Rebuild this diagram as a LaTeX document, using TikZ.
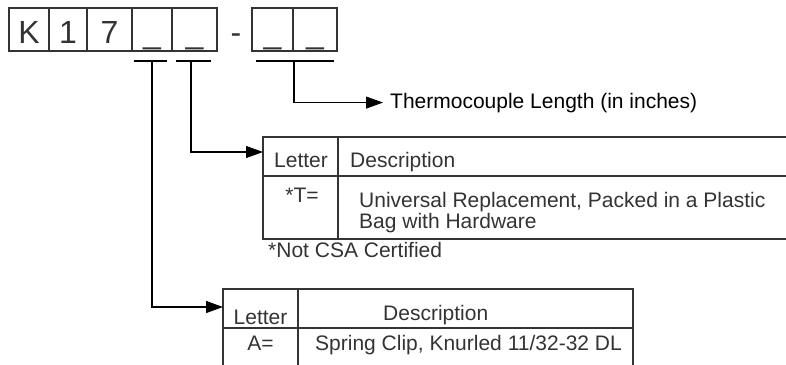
\documentclass[tikz,border=0pt]{standalone}
\usepackage{fontspec}
\setmainfont{Liberation Sans}
\usetikzlibrary{arrows.meta}
\definecolor{inkgray}{HTML}{333333}
\tikzset{
	digitbox/.style={draw=inkgray, line width=1.3pt, minimum height=43pt, inner sep=0pt, text height=27pt, text depth=0pt, font=\fontsize{32}{32}\selectfont, text=inkgray},
	tabtext/.style={inner sep=0pt, font=\fontsize{21}{21}\selectfont, text=inkgray},
	tabline/.style={draw=inkgray, line width=1.3pt},
	lead/.style={line width=1.1pt},
	leadarrow/.style={lead, -{Triangle[length=17pt,width=12pt]}}
}
\begin{document}
\begin{tikzpicture}[x=1pt,y=-1pt]
	\useasboundingbox (0,0) rectangle (786,364);
	\clip (0,0) rectangle (786,364);
	%part number boxes----------------------------
	\node[digitbox, minimum width=40pt] (bK) at (29,29.5) {K};
	\node[digitbox, minimum width=38pt] (bOne) at (68,29.5) {1};
	\node[digitbox, minimum width=45pt] (bSeven) at (109.5,29.5) {7};
	\node[digitbox, minimum width=40pt] (bMount) at (152,29.5) {\_};
	\node[digitbox, minimum width=45pt] (bKit) at (194.5,29.5) {\_};
	\node[inner sep=0pt, anchor=base, font=\fontsize{32}{32}\selectfont, text=inkgray] (dash) at (236,43) {-};
	\node[digitbox, minimum width=41pt] (bLenA) at (272.5,29.5) {\_};
	\node[digitbox, minimum width=44pt] (bLenB) at (315,29.5) {\_};
	
	%underlines
	\draw[lead] (134,61) -- (167,61); %mount
	\draw[lead] (176,61) -- (211,61); %kit
	\draw[lead] (256,61) -- (334,61); %length
	\coordinate (uMount) at (152,61);
	\coordinate (uKit) at (191,61);
	\coordinate (uLen) at (294,61);
	
	%length------------------------------------
	\node[tabtext, anchor=base west, text=black] (lenTxt) at (390,108) {Thermocouple Length (in inches)};
	\draw[leadarrow] (uLen) |- ([xshift=-7pt]lenTxt.west);
	
	%kit table---------------------------------
	\coordinate (kitIn) at (263,152);
	\draw[tabline] (800,137) -- (263,137) -- (263,239) -- (800,239); %frame
	\draw[tabline] (263,176) -- (800,176); %header line
	\draw[tabline] (338,137) -- (338,239); %column line
	\node[tabtext, anchor=base] (kitLetter) at (301,167) {Letter};
	\node[tabtext, anchor=base west] (kitDesc) at (350,167) {Description};
	\node[tabtext, anchor=base] (kitCode) at (302,202) {*T=};
	\node[tabtext, anchor=base west] (kitTxtA) at (359,207) {Universal Replacement, Packed in a Plastic};
	\node[tabtext, anchor=base west] (kitTxtB) at (359,228) {Bag with Hardware};
	\node[tabtext, anchor=base west] (kitNote) at (268,257) {*Not CSA Certified};
	\draw[leadarrow] (uKit) |- (kitIn);
	
	%mount table-------------------------------
	\coordinate (mntIn) at (223,307);
	\draw[tabline] (223,370) -- (223,289) -- (633,289) -- (633,370); %frame
	\draw[tabline] (223,328) -- (633,328); %header line
	\draw[tabline] (298,289) -- (298,370); %column line
	\node[tabtext, anchor=base] (mntLetter) at (260.5,324) {Letter};
	\node[tabtext, anchor=base west] (mntDesc) at (383,320) {Description};
	\node[tabtext, anchor=base] (mntCode) at (260.5,350) {A=};
	\node[tabtext, anchor=base west] (mntTxt) at (315,350) {Spring Clip, Knurled 11/32-32 DL};
	\draw[leadarrow] (uMount) |- (mntIn);
\end{tikzpicture}
\end{document}
